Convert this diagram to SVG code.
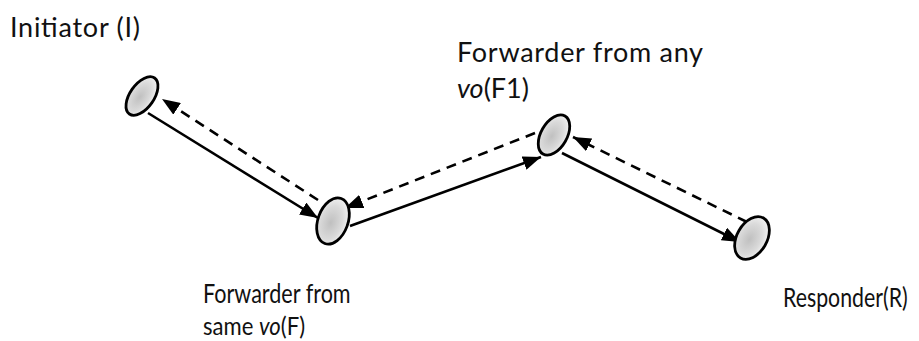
<svg xmlns="http://www.w3.org/2000/svg" width="919" height="341" viewBox="0 0 919 341">
  <style>
    .node { stroke: #000; stroke-width: 2.8; fill: url(#shade); }
    .flow { stroke: #000; stroke-width: 2.6; fill: none; marker-end: url(#head); }
    .back { stroke-dasharray: 10 7; }
    .label { font-family: Lato, "Liberation Sans", sans-serif; fill: #111; }
    .big { font-size: 27px; }
    .small { font-size: 26px; }
  </style>
  <defs>
    <radialGradient id="shade" cx="0.45" cy="0.55" r="0.6">
      <stop offset="0" stop-color="#c0c0c0"/>
      <stop offset="0.6" stop-color="#dadada"/>
      <stop offset="1" stop-color="#f6f6f6"/>
    </radialGradient>
    <marker id="head" viewBox="0 0 18 14" refX="18" refY="7" markerWidth="18" markerHeight="14" markerUnits="userSpaceOnUse" orient="auto">
      <path d="M0,0 L18,7 L0,14 Z" fill="#000"/>
    </marker>
  </defs>

  <!-- connectors: solid forward path, dashed return path -->
  <g id="connectors">
    <line class="flow" x1="148" y1="113" x2="318" y2="218"/>
    <line class="flow back" x1="318" y1="200" x2="162" y2="99"/>
    <line class="flow" x1="350" y1="226" x2="541" y2="157"/>
    <line class="flow back" x1="535" y1="133" x2="345" y2="208"/>
    <line class="flow" x1="562" y1="153" x2="740" y2="242"/>
    <line class="flow back" x1="747" y1="222" x2="573" y2="137"/>
  </g>

  <g id="initiator">
    <ellipse class="node" cx="142" cy="96" rx="12" ry="22" transform="rotate(35 142 96)"/>
    <text class="label big" x="10" y="37" textLength="130">Initiator (I)</text>
  </g>

  <!-- lower labels are set in a horizontally condensed face -->
  <g id="forwarder-same">
    <ellipse class="node" cx="333" cy="221" rx="15" ry="24" transform="rotate(20 333 221)"/>
    <text class="label small" transform="translate(203 303) scale(0.83 1)">Forwarder from</text>
    <text class="label small" transform="translate(203 335) scale(0.85 1)">same <tspan font-style="italic">vo</tspan>(F)</text>
  </g>

  <g id="forwarder-any">
    <ellipse class="node" cx="554" cy="135" rx="13" ry="22" transform="rotate(30 554 135)"/>
    <text class="label big" x="457" y="62" textLength="246">Forwarder from any</text>
    <text class="label big" x="457" y="98"><tspan font-style="italic">vo</tspan>(F1)</text>
  </g>

  <g id="responder">
    <ellipse class="node" cx="752" cy="238" rx="15" ry="23" transform="rotate(30 752 238)"/>
    <text class="label small" transform="translate(783 307) scale(0.82 1)">Responder(R)</text>
  </g>
</svg>
